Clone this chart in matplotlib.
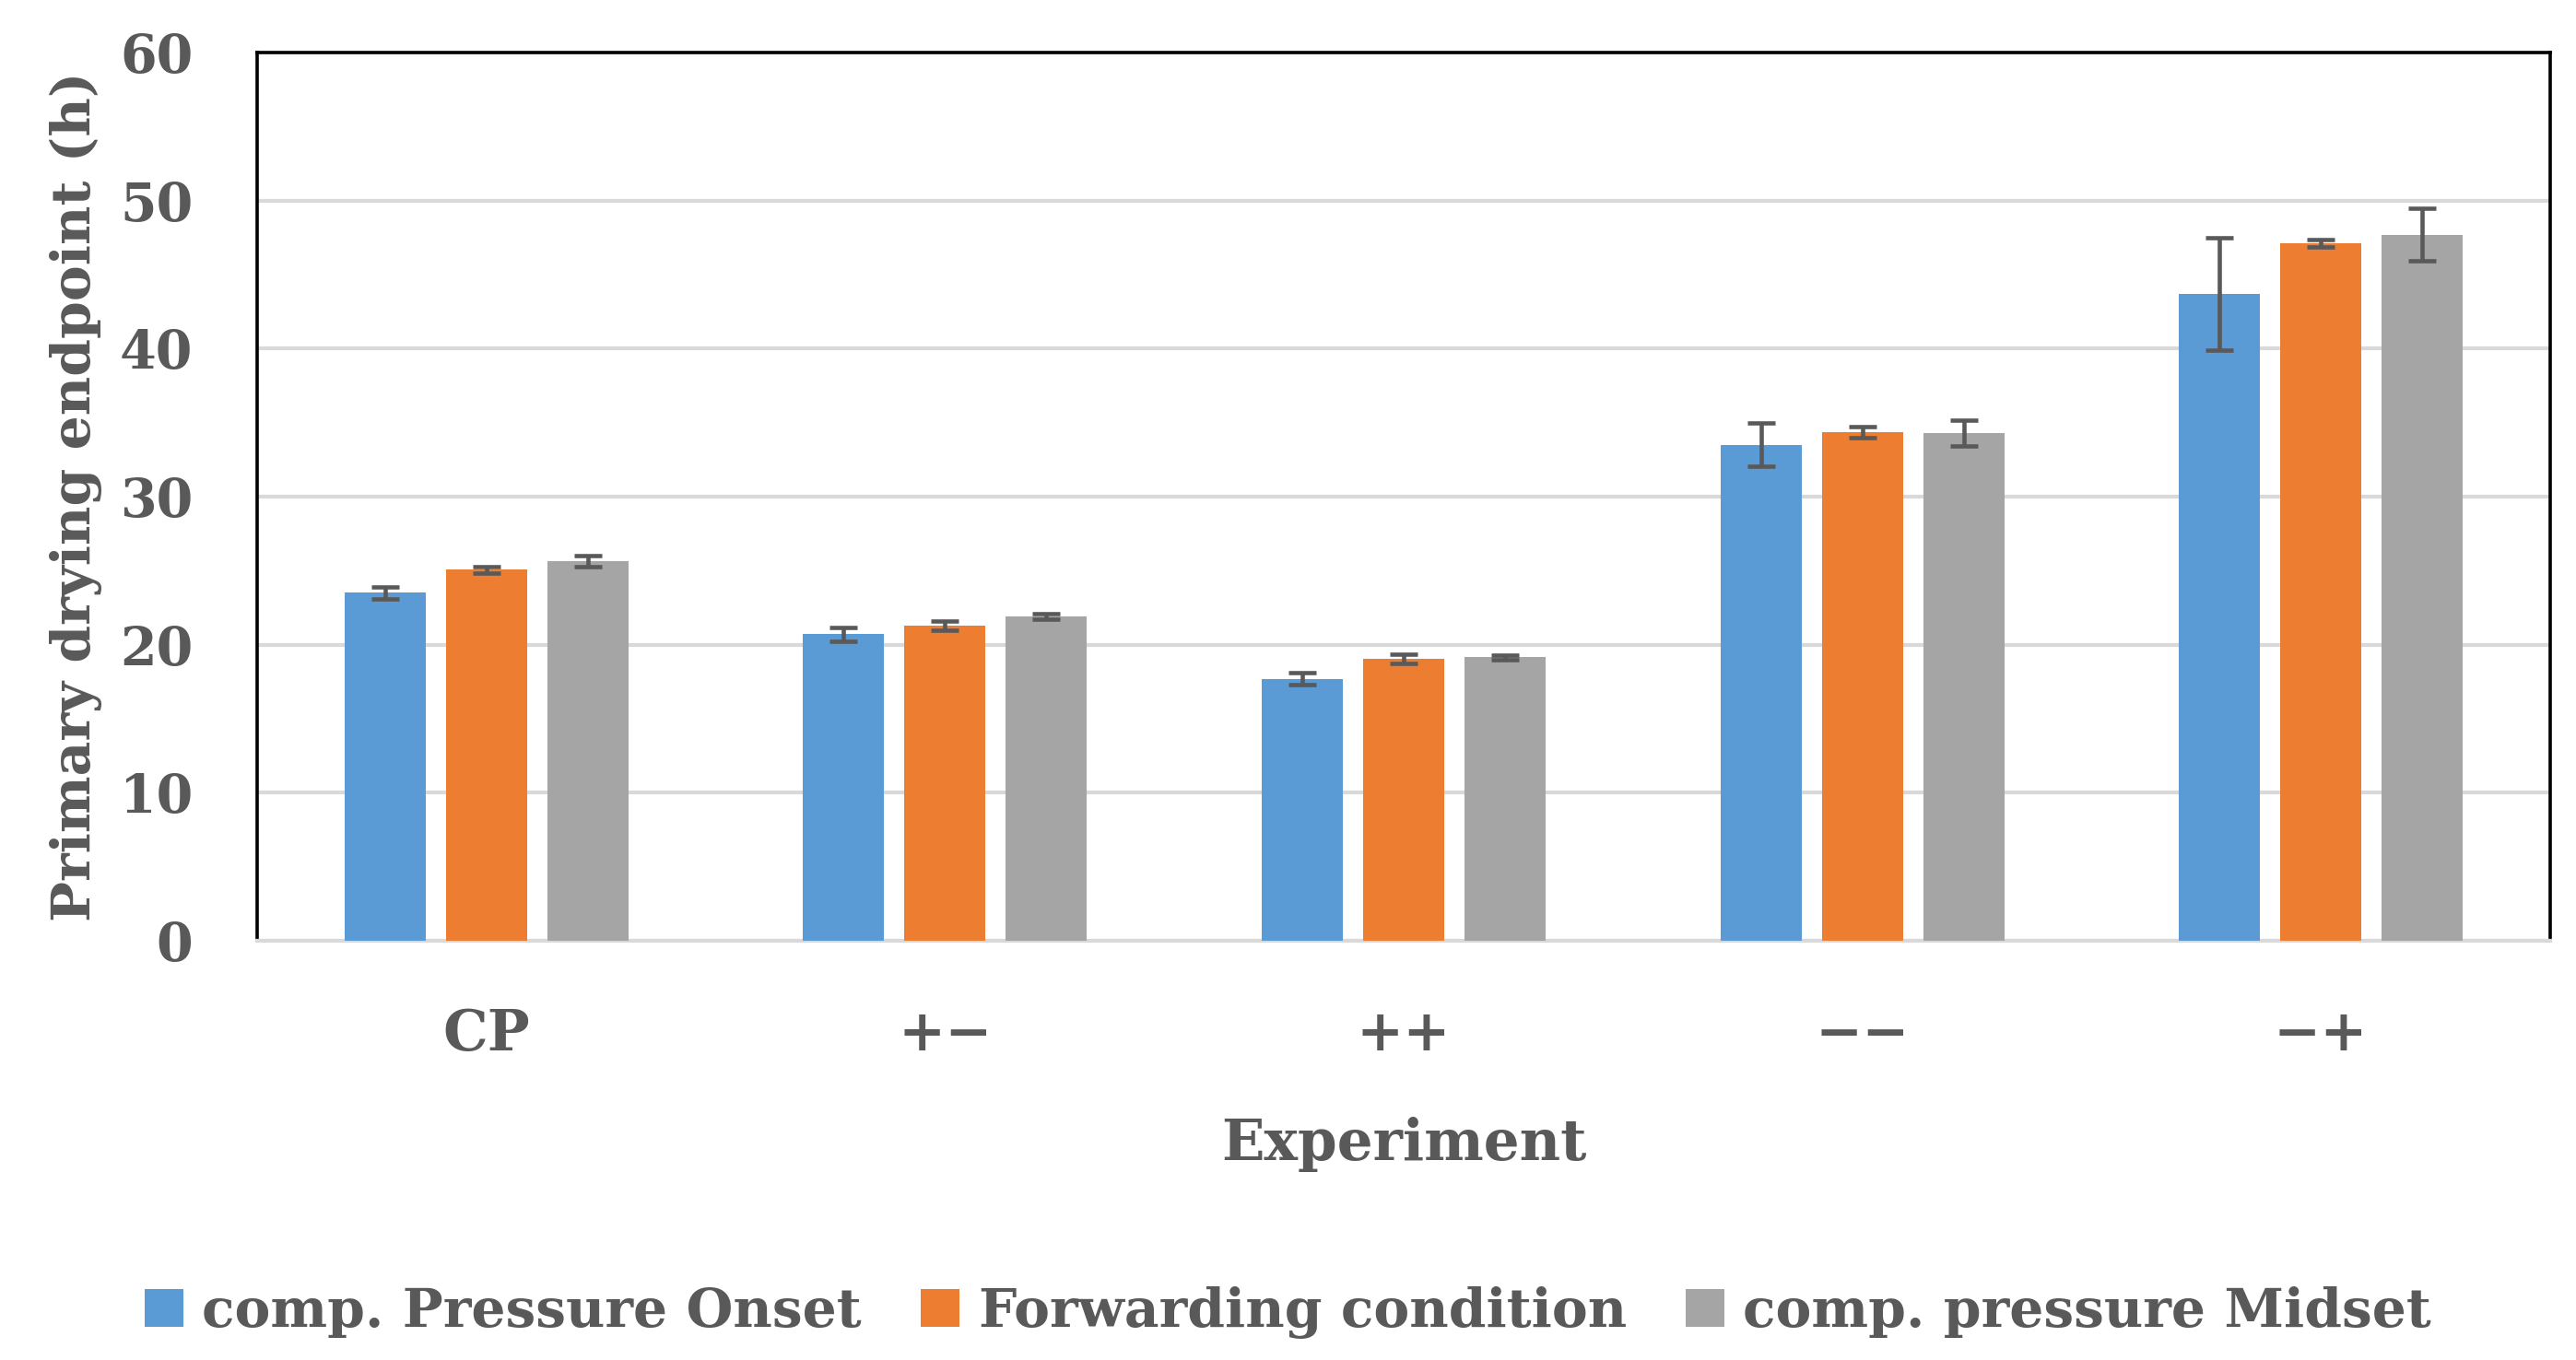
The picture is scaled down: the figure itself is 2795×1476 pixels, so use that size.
import matplotlib
matplotlib.use("Agg")
import matplotlib.pyplot as plt
import numpy as np

categories = ["CP", "+\u2212", "++", "\u2212\u2212", "\u2212+"]
series_names = ["comp. Pressure Onset", "Forwarding condition", "comp. pressure Midset"]
onset = [23.5, 20.7, 17.7, 33.5, 43.7]
onset_err = [0.4, 0.45, 0.4, 1.47, 3.8]
forwarding = [25.05, 21.3, 19.05, 34.35, 47.1]
forwarding_err = [0.24, 0.3, 0.3, 0.35, 0.25]
midset = [25.65, 21.9, 19.15, 34.3, 47.7]
midset_err = [0.37, 0.2, 0.15, 0.86, 1.77]
yticks = [0, 10, 20, 30, 40, 50, 60]

colors = ["#5B9BD5", "#ED7D31", "#A5A5A5"]
text_color = "#595959"
font = {"family": "DejaVu Serif", "weight": "bold"}

fig = plt.figure(figsize=(27.95, 14.76), dpi=100)
ax = fig.add_axes([0.0998, 0.3083, 0.8902, 0.6531])

x = np.arange(len(categories))
width = 0.177
step = 0.221
for i, (vals, errs) in enumerate(zip([onset, forwarding, midset],
                                     [onset_err, forwarding_err, midset_err])):
    ax.bar(x + (i - 1) * step, vals, width, color=colors[i], label=series_names[i],
           yerr=errs, error_kw=dict(ecolor=text_color, elinewidth=3.3, capsize=11,
                                    capthick=3.3), zorder=3)

ax.set_xlim(-0.5, len(categories) - 0.5)
ax.set_ylim(0, 60)
ax.set_yticks(yticks)
ax.set_yticklabels([str(t) for t in yticks], fontsize=41, color=text_color, **font)
ax.set_xticks(x)
ax.set_xticklabels(categories, fontsize=44, color=text_color, **font)
ax.tick_params(axis="y", length=0, pad=50)
ax.tick_params(axis="x", length=0, pad=52)
ax.yaxis.grid(True, color="#D9D9D9", linewidth=3, zorder=0)
ax.set_axisbelow(True)
for s in ["top", "left", "right"]:
    ax.spines[s].set_color("black")
    ax.spines[s].set_linewidth(2.6)
ax.spines["bottom"].set_color("#D9D9D9")
ax.spines["bottom"].set_linewidth(3)

ax.set_ylabel("Primary drying endpoint (h)", fontsize=42, color=text_color, labelpad=14, **font)
ax.set_xlabel("Experiment", fontsize=44, color=text_color, labelpad=42, **font)

handles, labels = ax.get_legend_handles_labels()
leg = fig.legend(handles, labels, loc="center", bbox_to_anchor=(0.5, 0.035), ncol=3,
                 frameon=False, prop=dict(family="DejaVu Serif", weight="bold", size=42),
                 handlelength=0.72, handleheight=0.72, handletextpad=0.35,
                 columnspacing=1.1, labelcolor=text_color)

fig.savefig("out.png", dpi=100)
